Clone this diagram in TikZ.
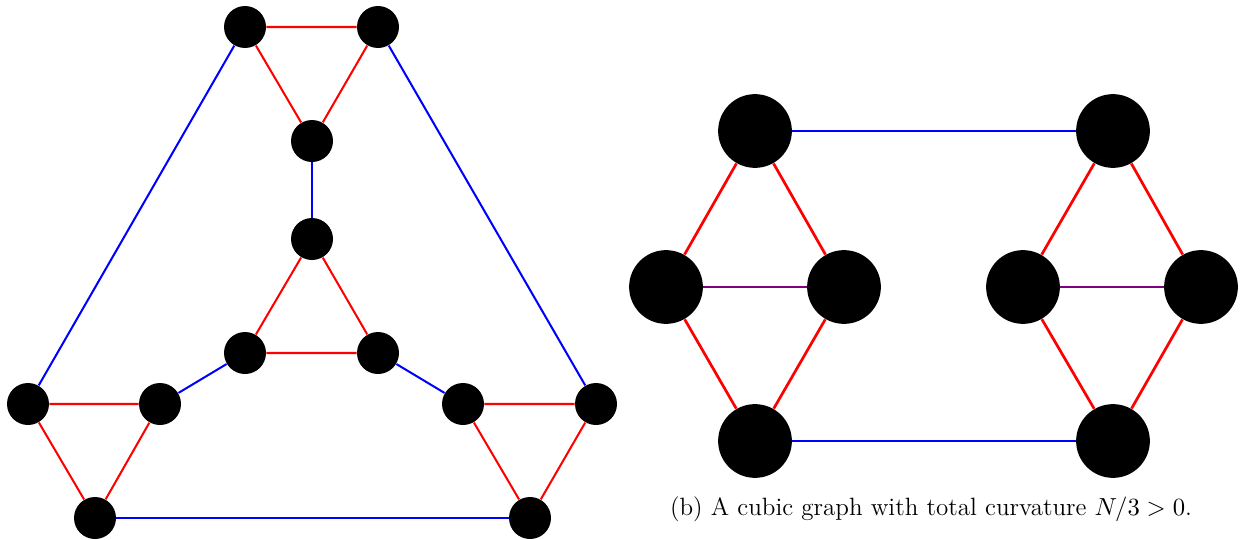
\documentclass[tikz,border=0pt]{standalone}
\usepackage{amsmath,amssymb}
\usepackage{tikz}
\definecolor{redge}{RGB}{255,0,0}
\definecolor{bedge}{RGB}{0,0,255}
\definecolor{pedge}{RGB}{128,0,128}
\tikzset{
  vs/.style={circle,fill=black,inner sep=0pt,minimum size=0.655cm},
  vb/.style={circle,fill=black,inner sep=0pt,minimum size=1.15cm},
  re/.style={draw=redge,line width=0.9pt},
  be/.style={draw=bedge,line width=0.9pt},
  reb/.style={draw=redge,line width=1.2pt},
  beb/.style={draw=bedge,line width=1.2pt},
  peb/.style={draw=pedge,line width=1.3pt},
  capt/.style={font=\fontsize{11.1pt}{13pt}\selectfont},
}
\begin{document}
\begin{tikzpicture}[x=0.0156cm,y=0.0156cm]
  \useasboundingbox (0,0) rectangle (1240,-540);
  % left graph
  \node[vs] (t1) at (245,-27) {};
  \node[vs] (t2) at (378,-27) {};
  \node[vs] (t3) at (312,-141) {};
  \node[vs] (c1) at (312,-239) {};
  \node[vs] (c2) at (245,-353) {};
  \node[vs] (c3) at (378,-353) {};
  \node[vs] (l1) at (28,-404) {};
  \node[vs] (l2) at (160,-404) {};
  \node[vs] (l3) at (95,-518) {};
  \node[vs] (r1) at (463,-404) {};
  \node[vs] (r2) at (596,-404) {};
  \node[vs] (r3) at (530,-518) {};
  \draw[re] (t1) -- (t2) -- (t3) -- (t1);
  \draw[re] (c1) -- (c2) -- (c3) -- (c1);
  \draw[re] (l1) -- (l2) -- (l3) -- (l1);
  \draw[re] (r1) -- (r2) -- (r3) -- (r1);
  \draw[be] (t3) -- (c1);
  \draw[be] (t1) -- (l1);
  \draw[be] (t2) -- (r2);
  \draw[be] (c2) -- (l2);
  \draw[be] (c3) -- (r1);
  \draw[be] (l3) -- (r3);
  % right graph
  \node[vb] (a1) at (755,-131) {};
  \node[vb] (a2) at (666,-287) {};
  \node[vb] (a3) at (844,-287) {};
  \node[vb] (a4) at (755,-441) {};
  \node[vb] (b1) at (1113,-131) {};
  \node[vb] (b2) at (1023,-287) {};
  \node[vb] (b3) at (1201,-287) {};
  \node[vb] (b4) at (1113,-441) {};
  \draw[reb] (a1) -- (a2) -- (a4) -- (a3) -- (a1);
  \draw[reb] (b1) -- (b2) -- (b4) -- (b3) -- (b1);
  \draw[peb] (a2) -- (a3);
  \draw[peb] (b2) -- (b3);
  \draw[beb] (a1) -- (b1);
  \draw[beb] (a4) -- (b4);
  \node[capt] (cap) at (931,-509) {(b) A cubic graph with total curvature $N/3>0$.};
\end{tikzpicture}
\end{document}
